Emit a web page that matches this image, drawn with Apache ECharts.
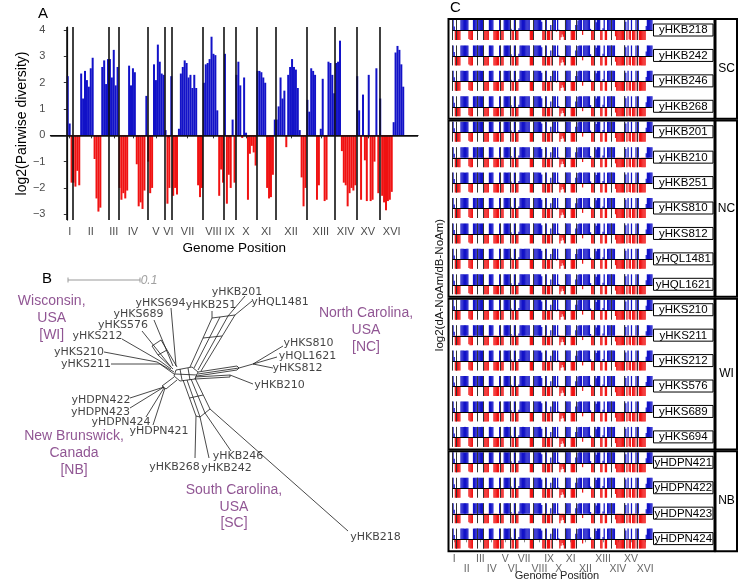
<!DOCTYPE html>
<html><head><meta charset="utf-8">
<script src="https://cdn.jsdelivr.net/npm/echarts@6/dist/echarts.min.js"></script>
<style>html,body{margin:0;padding:0;background:#fff}#c{width:740px;height:580px}</style>
</head><body><div id="c"></div>
<script>
// ---------- Panel A data: log2(pairwise diversity) per genomic window, by chromosome ----------
const chromNames = ['I','II','III','IV','V','VI','VII','VIII','IX','X','XI','XII','XIII','XIV','XV','XVI'];
const chrI    = [2.25, 0.45, -1.8];
const chrII   = [-1.8, -1.95, -1.35, -1.9, 2.35, 1.4, 2.45, 2.1, 1.85, 2.55, 2.95, -0.9, -2.4, -2.9, -2.75, 2.6, 2.85, 1.95, 2.9];
const chrIII  = [2.9, 2.2, 3.25, 1.9, 2.6];
const chrIV   = [-2.0, -2.45, -2.2, -2.4, -2.1, 2.65, 1.9, 2.55, 2.4, -1.1, -2.7, -2.55, -2.8, -2.1, 1.5];
const chrV    = [-1.0, -2.2, -2.0, 2.7, 2.1, 3.45, 2.8, 2.35, 2.3];
const chrVI   = [0.2, -2.6, -2.0, 2.25];
const chrVII  = [-2.3, -2.0, -2.25, 0.25, 2.35, 2.6, 2.85, 2.75, 2.2, 2.3, 1.8, 2.3, 1.8, -1.9, -2.35, -2.0];
const chrVIII = [2.0, 2.7, 2.75, 2.9, 3.75, 3.1, 3.05, 0.95, -2.3, -1.3, -1.8];
const chrIX   = [3.1, -2.6, -1.5, -2.0, 0.6, -1.8];
const chrX    = [2.3, 2.8, 1.9, -0.1, 2.2, 0.1, -2.45, -0.7, -0.4, -0.65, -1.15];
const chrXI   = [2.45, 2.45, 2.4, 2.2, 2.0, -2.0, -2.4, -2.35, -1.5, 0.6];
const chrXII  = [0.6, 1.1, 2.2, 1.4, 1.7, -0.45, 2.3, 2.6, 2.9, 2.6, 2.5, 1.8, 0.2, -1.6, -2.7, -2.0];
const chrXIII = [1.35, 0.9, 2.55, 2.45, 2.3, -2.45, -1.9, 0.25, 2.15, -2.5, -2.45, 2.8, 2.75, 2.3, 1.6];
const chrXIV  = [2.75, 2.8, 3.6, -0.6, -1.8, -1.9, -2.7, -2.2, -2.0, -2.1, -1.9];
const chrXV   = [2.25, 0.95, -2.45, 1.55, -0.95, -2.5, 2.3, -2.5, -2.45, -1.0, 2.55, -2.2];
const chrXVI  = [1.4, -2.3, -2.55, -2.85, -2.5, -2.45, -2.15, 0.5, 3.15, 3.4, 3.25, 2.7, 1.85];
const chromWindows = [chrI, chrII, chrIII, chrIV, chrV, chrVI, chrVII, chrVIII, chrIX, chrX, chrXI, chrXII, chrXIII, chrXIV, chrXV, chrXVI];
const yTicksA = [-3, -2, -1, 0, 1, 2, 3, 4];

// ---------- Panel C: strains per population (strips show the same window pattern as panel A) ----------
const groupNames = ['SC', 'NC', 'WI', 'NB'];
const scStrains = ['yHKB218', 'yHKB242', 'yHKB246', 'yHKB268'];
const ncStrains = ['yHKB201', 'yHKB210', 'yHKB251', 'yHKS810', 'yHKS812', 'yHQL1481', 'yHQL1621'];
const wiStrains = ['yHKS210', 'yHKS211', 'yHKS212', 'yHKS576', 'yHKS689', 'yHKS694'];
const nbStrains = ['yHDPN421', 'yHDPN422', 'yHDPN423', 'yHDPN424'];

// ---------- Panel B: network (layout units; scale bar = 0.1 substitutions) ----------
const networkEdges = [
  [[-9,-4],[7,-7],[13,-2],[10,5],[-5,7],[-11,2],[-9,-4]],
  [[-5,-5],[-3,6]], [[3,-6],[5,6]], [[-10,0],[12,1]],
  [[5,-7],[27,-56]], [[9,-6],[35,-57]], [[13,-4],[43,-58]], [[16,-3],[50,-59]],
  [[27,-56],[50,-59]], [[18,-36],[37,-38]],
  [[27,-56],[27,-63]], [[43,-58],[60,-78]], [[50,-59],[67,-73]],
  [[-9,-8],[-14,-66]], [[-12,-8],[-31,-54]], [[-14,-7],[-43,-43]],
  [[-14,-5],[-25,-13],[-63,-35]], [[-11,-2],[-28,-12],[-81,-22]], [[-11,0],[-25,-10],[-74,-10]],
  [[-33,-28],[-24,-34],[-18,-24],[-27,-19],[-33,-28]], [[-18,-24],[-8,-7]], [[-27,-19],[-12,-5]],
  [[13,-2],[52,-8]], [[13,0],[54,-6]], [[12,2],[52,-4]], [[52,-8],[54,-6],[52,-4]],
  [[54,-6],[68,-10]], [[68,-10],[98,-28]], [[68,-10],[92,-17]], [[68,-10],[88,-6]],
  [[10,3],[45,1],[68,10]], [[10,5],[45,3],[45,1]],
  [[-11,3],[-23,12]], [[-8,6],[-19,15]], [[-23,12],[-19,15]],
  [[-21,13],[-55,24]], [[-21,13],[-55,34]], [[-21,14],[-39,43]], [[-20,14],[-32,51]],
  [[-2,6],[11,42]], [[2,6],[15,43]], [[6,5],[20,39]], [[10,4],[25,35]],
  [[4.5,24],[18,21]], [[11,42],[15,43],[20,39],[25,35]],
  [[11,42],[10,84]], [[15,43],[24,84]], [[20,39],[46,77]], [[25,35],[163,157]]
];
const tipNames  = ['yHKS694','yHKS689','yHKS576','yHKS212','yHKS210','yHKS211','yHKB251','yHKB201','yHQL1481','yHKS810','yHQL1621','yHKS812','yHKB210','yHDPN422','yHDPN423','yHDPN424','yHDPN421','yHKB246','yHKB268','yHKB242','yHKB218'];
const tipLabelX = [-24.5, -46.5, -62, -87.5, -106, -99, 26, 52, 95, 123.5, 122.5, 112.5, 94.5, -84, -84.5, -64, -26, 53, -10.5, 41.5, 190.5];
const tipLabelY = [-71.3, -60, -49, -38, -22, -10, -69, -82, -72, -31, -18, -6, 10.7, 26, 37.7, 47.7, 57, 82, 92.7, 94.3, 162.7];
const regionNames = ['Wisconsin,\nUSA\n[WI]', 'North Carolina,\nUSA\n[NC]', 'New Brunswick,\nCanada\n[NB]', 'South Carolina,\nUSA\n[SC]'];
const regionX = [-133.3, 181, -111, 49];
const regionY = [-55.7, -44, 79.3, 132.7];
const scaleBarLength = 72;   // layout units for 0.1
const scaleBarLabel = '0.1';

// ---------- build ----------
const BLUE = '#1212c8', RED = '#f01212';
const FONT = 'Liberation Sans, Arial, Helvetica, sans-serif';
const starts = [], mids = [], pts = [];
let off = 0;
chromWindows.forEach(arr => {
  starts.push(off); mids.push(off + arr.length / 2);
  arr.forEach((v, i) => pts.push([off + i + 0.5, v]));
  off += arr.length;
});
const nWin = off;
const nameAt = v => { const i = mids.findIndex(m => Math.abs(m - v) < 1e-6); return i < 0 ? '' : chromNames[i]; };
const midsOdd = mids.filter((m, i) => i % 2 === 0);   // I, III, V, ...
const midsEven = mids.filter((m, i) => i % 2 === 1);  // II, IV, VI, ...
const barData = pts.map(p => ({ value: p, itemStyle: { color: p[1] >= 0 ? BLUE : RED } }));

const grids = [], xAxes = [], yAxes = [], series = [], gfx = [];

// Panel A
grids.push({ left: 35.7, top: 27, width: 382.3, height: 193 });
xAxes.push({ type: 'value', gridIndex: 0, min: -8.53, max: 183.2,
  axisLine: { show: true, lineStyle: { color: '#000', width: 1.2 } },
  axisTick: { show: true, customValues: mids, length: 3, lineStyle: { color: '#333' } },
  axisLabel: { customValues: mids, formatter: v => nameAt(v), color: '#4d4d4d', fontSize: 11, margin: 6, fontFamily: FONT, showMaxLabel: true, showMinLabel: true, hideOverlap: false },
  splitLine: { show: false },
  name: 'Genome Position', nameLocation: 'middle', nameGap: 21,
  nameTextStyle: { color: '#000', fontSize: 13.5, fontFamily: FONT } });
yAxes.push({ type: 'value', gridIndex: 0, min: -3.22, max: 4.12,
  axisLine: { show: true, lineStyle: { color: '#000', width: 1.2 } },
  axisTick: { show: true, customValues: yTicksA, length: 3, lineStyle: { color: '#333' } },
  axisLabel: { customValues: yTicksA, formatter: v => v < 0 ? '\u2212' + (-v) : String(v), color: '#4d4d4d', fontSize: 11, margin: 5, fontFamily: FONT },
  splitLine: { show: false },
  name: 'log2(Pairwise diversity)', nameLocation: 'middle', nameGap: 20, nameRotate: 90,
  nameTextStyle: { color: '#000', fontSize: 14, fontFamily: FONT } });
series.push({ type: 'bar', xAxisIndex: 0, yAxisIndex: 0, data: barData, barWidth: 2, animation: false, silent: true,
  markLine: { symbol: 'none', silent: true, animation: false, label: { show: false },
    lineStyle: { color: '#111', width: 1.6, type: 'solid' },
    data: starts.map(s => ({ xAxis: s })).concat([{ yAxis: 0 }]) } });

// Panel B
grids.push({ left: 40, top: 262, width: 380, height: 290 });
xAxes.push({ type: 'value', gridIndex: 1, min: -145, max: 235, show: false });
yAxes.push({ type: 'value', gridIndex: 1, min: -112, max: 178, inverse: true, show: false });
series.push({ type: 'lines', coordinateSystem: 'cartesian2d', xAxisIndex: 1, yAxisIndex: 1, polyline: true, silent: true,
  data: networkEdges.map(c => ({ coords: c })), lineStyle: { color: '#1a1a1a', width: 0.8, opacity: 1 }, animation: false });
series.push({ type: 'lines', coordinateSystem: 'cartesian2d', xAxisIndex: 1, yAxisIndex: 1, polyline: true, silent: true,
  data: [
    { coords: [[-117, -94], [-117 + scaleBarLength, -94]] },
    { coords: [[-117, -96.5], [-117, -91.5]] },
    { coords: [[-117 + scaleBarLength, -96.5], [-117 + scaleBarLength, -91.5]] }
  ], lineStyle: { color: '#999', width: 1, opacity: 1 }, animation: false });
series.push({ type: 'scatter', xAxisIndex: 1, yAxisIndex: 1, symbolSize: 1, silent: true, animation: false,
  itemStyle: { color: 'rgba(0,0,0,0)' },
  data: [{ value: [-36, -93.5], name: scaleBarLabel }],
  label: { show: true, position: 'inside', formatter: '{b}', color: '#888', fontStyle: 'italic', fontSize: 12, fontFamily: FONT } });
series.push({ type: 'scatter', xAxisIndex: 1, yAxisIndex: 1, symbolSize: 1, silent: true, animation: false,
  itemStyle: { color: 'rgba(0,0,0,0)' },
  data: tipNames.map((n, i) => ({ value: [tipLabelX[i], tipLabelY[i]], name: n })),
  label: { show: true, position: 'inside', formatter: '{b}', color: '#111', fontSize: 11, fontFamily: 'DejaVu Sans, sans-serif' } });
series.push({ type: 'scatter', xAxisIndex: 1, yAxisIndex: 1, symbolSize: 1, silent: true, animation: false,
  itemStyle: { color: 'rgba(0,0,0,0)' },
  data: regionNames.map((n, i) => ({ value: [regionX[i], regionY[i]], name: n })),
  label: { show: true, position: 'inside', formatter: '{b}', color: '#742a78', fontSize: 14, lineHeight: 16.7, align: 'center', fontFamily: FONT } });

// Panel C
const strainGroups = [scStrains, ncStrains, wiStrains, nbStrains];
const cTop = 18, rowH = 25.43, stripLeft = 452.5, stripW = 200;
const totalRows = strainGroups.reduce((a, g) => a + g.length, 0);
const cLabel = { color: '#666', fontSize: 10.5, fontFamily: FONT, showMaxLabel: true, showMinLabel: true, hideOverlap: false, formatter: v => nameAt(v) };
let row = 0;
strainGroups.forEach((strains, gi) => {
  const gTop = cTop + row * rowH, gH = strains.length * rowH;
  gfx.push({ type: 'rect', shape: { x: 448.5, y: gTop + 0.9, width: 266, height: gH - 1.8 }, style: { fill: 'none', stroke: '#000', lineWidth: 2 }, z: 50, silent: true });
  gfx.push({ type: 'rect', shape: { x: 715.5, y: gTop + 0.9, width: 21.5, height: gH - 1.8 }, style: { fill: 'none', stroke: '#000', lineWidth: 2 }, z: 50, silent: true });
  gfx.push({ type: 'text', x: 726.5, y: gTop + gH / 2, style: { text: groupNames[gi], fill: '#000', font: '12px ' + FONT, align: 'center', verticalAlign: 'middle' }, z: 50, silent: true });
  strains.forEach(name => {
    const rTop = cTop + row * rowH;
    const gIdx = grids.length;
    const last = row === totalRows - 1;
    grids.push({ left: stripLeft, top: rTop + 2, width: stripW, height: 20 });
    xAxes.push(last ? { type: 'value', gridIndex: gIdx, min: 0, max: nWin, offset: 3,
      axisLine: { show: false },
      axisTick: { show: true, customValues: mids, length: 3, lineStyle: { color: '#888' } },
      axisLabel: Object.assign({ customValues: midsOdd, margin: 2 }, cLabel),
      splitLine: { show: false } }
      : { type: 'value', gridIndex: gIdx, min: 0, max: nWin, show: false });
    yAxes.push({ type: 'value', gridIndex: gIdx, min: -1.0, max: 1.15, show: false });
    series.push({ type: 'bar', xAxisIndex: gIdx, yAxisIndex: gIdx, data: barData, barWidth: 1.25, animation: false, silent: true,
      markLine: { symbol: 'none', silent: true, animation: false, label: { show: false },
        data: starts.map(s => ({ xAxis: s, lineStyle: { color: '#333', width: 1, type: 'solid' } }))
          .concat([{ yAxis: 0, lineStyle: { color: '#000', width: 1, type: 'solid' } }]) } });
    gfx.push({ type: 'rect', shape: { x: 653.5, y: rTop + 6, width: 59.5, height: 12 }, style: { fill: '#fff', stroke: '#000', lineWidth: 1 }, z: 40, silent: true });
    gfx.push({ type: 'text', x: 683.3, y: rTop + 12.2, style: { text: name, fill: '#000', font: '11.5px ' + FONT, align: 'center', verticalAlign: 'middle' }, z: 41, silent: true });
    if (last) {
      // second (lower) row of staggered chromosome labels
      xAxes.push({ type: 'value', gridIndex: gIdx, min: 0, max: nWin, offset: 13, position: 'bottom',
        axisLine: { show: false }, axisTick: { show: false },
        axisLabel: Object.assign({ customValues: midsEven, margin: 2 }, cLabel),
        splitLine: { show: false } });
    }
    row++;
  });
});

// titles / panel letters
gfx.push({ type: 'text', x: 38, y: 14, style: { text: 'A', fill: '#000', font: '15px ' + FONT, align: 'left', verticalAlign: 'middle' }, silent: true });
gfx.push({ type: 'text', x: 42, y: 279, style: { text: 'B', fill: '#000', font: '15px ' + FONT, align: 'left', verticalAlign: 'middle' }, silent: true });
gfx.push({ type: 'text', x: 450, y: 8, style: { text: 'C', fill: '#000', font: '15px ' + FONT, align: 'left', verticalAlign: 'middle' }, silent: true });
gfx.push({ type: 'text', x: 440, y: 285, rotation: Math.PI / 2, style: { text: 'log2(dA-NoAm/dB-NoAm)', fill: '#111', font: '11.5px ' + FONT, align: 'center', verticalAlign: 'middle' }, silent: true });
gfx.push({ type: 'text', x: 557, y: 576, style: { text: 'Genome Position', fill: '#222', font: '11px ' + FONT, align: 'center', verticalAlign: 'middle' }, silent: true });

const chart = echarts.init(document.getElementById('c'), null, { renderer: 'canvas' });
chart.setOption({ animation: false, backgroundColor: '#fff', grid: grids, xAxis: xAxes, yAxis: yAxes, series: series, graphic: { elements: gfx } });
</script>
</body></html>
